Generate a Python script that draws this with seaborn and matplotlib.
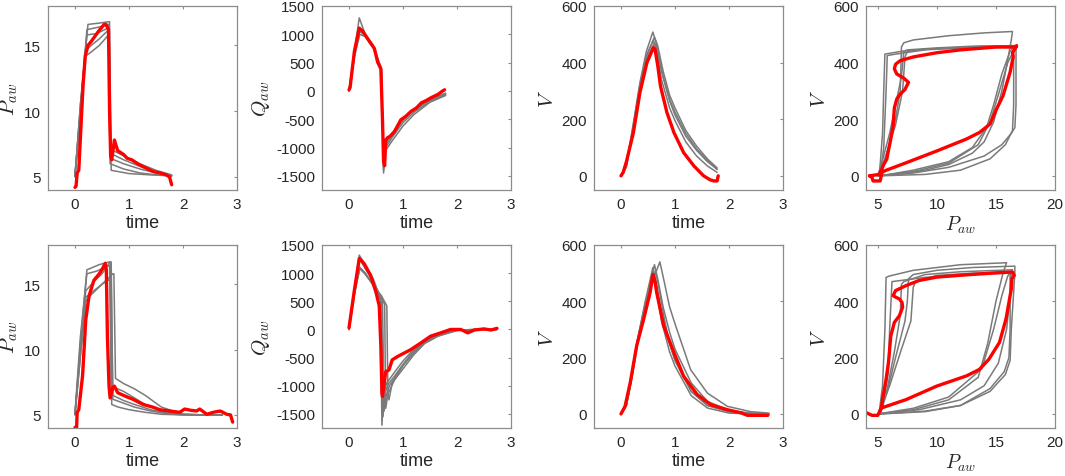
import matplotlib
matplotlib.use("Agg")
import matplotlib.pyplot as plt
import seaborn as sns

# ---- data read off the reference (gray = simulations, red = measurement) ----
# top row, pressure vs time
p_top_gray_t = [
    [0, 0.1, 0.24, 0.45, 0.62, 0.64, 0.67, 1.0, 1.4, 1.79],
    [0, 0.1, 0.22, 0.45, 0.6, 0.63, 0.66, 0.9, 1.2, 1.5, 1.79],
    [0, 0.1, 0.2, 0.3, 0.45, 0.6, 0.62, 0.65, 0.9, 1.2, 1.5, 1.79],
    [0, 0.1, 0.2, 0.3, 0.45, 0.6, 0.62, 0.65, 0.9, 1.2, 1.5, 1.79],
    [0, 0.1, 0.22, 0.4, 0.6, 0.63, 0.66, 0.9, 1.2, 1.5, 1.79],
]
p_top_gray_y = [
    [5.0, 10.5, 16.6, 16.7, 16.8, 16.8, 5.5, 5.25, 5.15, 5.1],
    [5.1, 10.0, 16.2, 16.4, 16.6, 16.6, 7.1, 6.6, 6.0, 5.5, 5.15],
    [5.2, 10.0, 14.6, 15.0, 15.5, 16.1, 16.1, 6.8, 6.3, 5.8, 5.4, 5.1],
    [5.1, 9.5, 14.2, 14.5, 15.0, 15.7, 15.7, 6.0, 5.6, 5.3, 5.15, 5.05],
    [5.0, 10.5, 15.8, 15.9, 16.3, 16.3, 6.4, 6.0, 5.6, 5.3, 5.1],
]
p_top_red_t = [0, 0.02, 0.04, 0.07, 0.1, 0.15, 0.19, 0.24, 0.3, 0.44, 0.54, 0.57, 0.6, 0.62,
               0.64, 0.66, 0.68, 0.73, 0.76, 0.79, 0.9, 0.97, 1.05, 1.16, 1.25, 1.35, 1.45,
               1.57, 1.69, 1.75, 1.79]
p_top_red_y = [4.2, 4.3, 5.3, 5.5, 8.0, 12.0, 14.2, 15.0, 15.3, 16.1, 16.6, 16.6, 16.4, 16.2,
               10.0, 6.6, 6.3, 7.8, 7.4, 7.0, 6.7, 6.4, 6.3, 6.0, 5.8, 5.6, 5.4,
               5.3, 5.15, 5.0, 4.4]

# top row, flow vs time
q_top_gray_t = [
    [0, 0.1, 0.19, 0.3, 0.45, 0.6, 0.64, 0.68, 0.8, 1.0, 1.2, 1.5, 1.79],
    [0, 0.1, 0.2, 0.3, 0.45, 0.6, 0.64, 0.68, 0.8, 1.0, 1.2, 1.5, 1.79],
    [0, 0.1, 0.2, 0.3, 0.45, 0.6, 0.64, 0.68, 0.8, 1.0, 1.2, 1.5, 1.79],
    [0, 0.1, 0.2, 0.3, 0.45, 0.6, 0.64, 0.68, 0.8, 1.0, 1.2, 1.5, 1.79],
]
q_top_gray_y = [
    [0, 700, 1290, 1000, 800, 400, -1450, -1000, -820, -560, -380, -180, -70],
    [0, 650, 1100, 1000, 780, 380, -1350, -950, -780, -520, -340, -160, -50],
    [0, 600, 1000, 960, 760, 360, -1250, -1050, -880, -620, -420, -200, -80],
    [0, 620, 1050, 980, 770, 370, -1400, -900, -750, -500, -330, -150, -40],
]
q_top_red_t = [0, 0.02, 0.1, 0.19, 0.25, 0.34, 0.47, 0.53, 0.59, 0.62, 0.64, 0.66, 0.68, 0.72,
               0.75, 0.84, 0.96, 1.05, 1.15, 1.25, 1.34, 1.43, 1.52, 1.65, 1.72, 1.77]
q_top_red_y = [20, 60, 700, 1110, 1060, 930, 750, 510, 390, -500, -1250, -1320, -870, -820,
               -810, -720, -510, -450, -360, -300, -210, -170, -120, -60, -10, 20]

# top row, volume vs time
v_top_gray_t = [
    [0, 0.1, 0.23, 0.35, 0.47, 0.59, 0.65, 0.75, 0.9, 1.0, 1.2, 1.4, 1.6, 1.78],
    [0, 0.1, 0.23, 0.35, 0.47, 0.62, 0.68, 0.78, 0.9, 1.0, 1.2, 1.4, 1.6, 1.78],
    [0, 0.1, 0.23, 0.35, 0.47, 0.62, 0.68, 0.78, 0.9, 1.0, 1.2, 1.4, 1.6, 1.78],
    [0, 0.1, 0.23, 0.35, 0.47, 0.6, 0.66, 0.75, 0.9, 1.0, 1.2, 1.4, 1.6, 1.78],
]
v_top_gray_y = [
    [0, 40, 188, 329, 440, 508, 470, 370, 265, 215, 140, 90, 50, 24],
    [0, 35, 180, 320, 425, 490, 460, 370, 285, 240, 160, 105, 60, 28],
    [0, 30, 170, 305, 410, 470, 440, 350, 270, 225, 150, 95, 55, 22],
    [0, 35, 175, 310, 420, 480, 440, 340, 240, 195, 120, 70, 35, 12],
]
v_top_red_t = [0, 0.04, 0.1, 0.23, 0.35, 0.48, 0.6, 0.63, 0.68, 0.73, 0.85, 0.98, 1.16, 1.35,
               1.53, 1.65, 1.72, 1.78, 1.8]
v_top_red_y = [0, 12, 50, 153, 294, 400, 453, 447, 390, 318, 224, 153, 82, 35,
               0, -14, -18, -18, 0]

# top row, volume vs pressure loops
loop_top_gray_p = [
    [5.1, 7, 9, 11, 13, 14, 14.8, 15.5, 16.0, 16.3, 16.4, 14, 11, 8, 7.2, 7.0, 6.9, 6.5, 5.9, 5.3, 5.1],
    [5.1, 8, 11, 14, 15.5, 16.3, 16.6, 16.7, 16.7, 14, 10, 7, 5.6, 5.5, 5.4, 5.2, 5.1],
    [5.2, 8, 11, 13, 14.2, 14.8, 15.5, 16.2, 16.5, 12, 9, 6.5, 5.8, 5.7, 5.5, 5.2],
    [5.0, 8, 11, 13.5, 14.5, 15.3, 16, 16.6, 16.6, 13, 10, 7.5, 7.2, 7.0, 6.5, 6.0, 5.3, 5.0],
    [5.1, 9, 12, 14.5, 15.8, 16.4, 16.5, 16.5, 13, 9, 7.5, 7.3, 7.1, 6.5, 5.6, 5.1],
]
loop_top_gray_v = [
    [0, 8, 20, 40, 80, 120, 190, 300, 410, 480, 510, 505, 495, 480, 470, 455, 300, 200, 100, 20, 0],
    [0, 10, 30, 70, 110, 150, 170, 250, 460, 458, 450, 440, 430, 300, 150, 40, 0],
    [0, 20, 50, 100, 170, 250, 360, 440, 455, 452, 445, 430, 425, 300, 100, 0],
    [0, 15, 45, 110, 190, 300, 400, 450, 460, 458, 452, 445, 440, 350, 250, 150, 40, 0],
    [0, 5, 20, 60, 110, 160, 250, 455, 453, 447, 440, 420, 300, 180, 60, 0],
]
loop_top_red_p = [4.3, 4.5, 4.6, 5.2, 5.35, 5.6, 7.45, 10, 12.5, 13.6, 14.5, 15.05, 15.6, 16.2,
                  16.46, 16.4, 16.6, 16.75, 16.7, 15, 12, 10, 8, 6.9, 6.5, 6.4, 6.6, 7.2, 7.6,
                  7.45, 7.3, 6.9, 6.6, 6.4, 6.3, 6.04, 5.9, 5.76, 5.5, 5.34, 5.1, 4.3]
loop_top_red_v = [0, -5, -18, -18, 12, 18, 47, 88, 130, 153, 183, 236, 283, 366,
                  420, 435, 448, 460, 455, 455, 445, 435, 420, 407, 394, 378, 360, 345, 330,
                  318, 305, 289, 271, 240, 177, 118, 90, 59, 40, 24, 5, 0]

# bottom row, pressure vs time
p_bot_gray_t = [
    [0, 0.1, 0.22, 0.45, 0.63, 0.65, 0.68, 0.8, 1.0, 1.3, 1.6, 2.0, 2.4, 2.73],
    [0, 0.1, 0.2, 0.3, 0.45, 0.7, 0.72, 0.75, 0.9, 1.1, 1.3, 1.6, 2.0, 2.4, 2.73],
    [0, 0.1, 0.2, 0.35, 0.5, 0.65, 0.67, 0.7, 0.9, 1.1, 1.4, 1.7, 2.0, 2.4, 2.73],
    [0, 0.1, 0.2, 0.35, 0.5, 0.65, 0.67, 0.7, 0.9, 1.1, 1.4, 1.7, 2.0, 2.4, 2.73],
    [0, 0.1, 0.22, 0.4, 0.62, 0.64, 0.67, 0.9, 1.1, 1.3, 1.6, 2.0, 2.4, 2.73],
]
p_bot_gray_y = [
    [5.0, 10.5, 16.1, 16.5, 16.7, 16.7, 5.8, 5.6, 5.4, 5.2, 5.05, 5.0, 5.0, 5.0],
    [5.1, 9.5, 13.7, 14.2, 14.8, 15.8, 15.8, 7.8, 7.4, 7.0, 6.5, 5.6, 5.05, 5.0, 5.0],
    [5.1, 10.0, 14.5, 15.2, 15.8, 16.7, 16.7, 6.5, 6.1, 5.8, 5.4, 5.15, 5.05, 5.0, 5.0],
    [5.0, 9.5, 14.0, 14.5, 15.0, 15.4, 15.4, 6.2, 5.9, 5.6, 5.3, 5.1, 5.0, 5.0, 5.0],
    [5.2, 11.0, 15.8, 16.0, 16.4, 16.4, 7.2, 6.8, 6.3, 5.8, 5.3, 5.05, 5.0, 5.0],
]
p_bot_red_t = [0, 0.03, 0.04, 0.07, 0.14, 0.2, 0.26, 0.35, 0.45, 0.51, 0.56, 0.58, 0.6, 0.63,
               0.65, 0.7, 0.73, 0.79, 0.95, 1.07, 1.26, 1.44, 1.57, 1.75, 1.94, 2.03, 2.15,
               2.25, 2.31, 2.44, 2.56, 2.69, 2.81, 2.88, 2.92]
p_bot_red_y = [4.05, 4.05, 5.2, 5.4, 8.0, 12.3, 14.1, 15.3, 15.8, 16.2, 16.6, 16.1, 11.0, 7.2,
               6.3, 7.1, 7.2, 6.7, 6.4, 6.2, 5.8, 5.6, 5.4, 5.3, 5.2, 5.45, 5.35,
               5.3, 5.45, 5.05, 5.2, 5.3, 5.05, 5.0, 4.45]

# bottom row, flow vs time
q_bot_gray_t = [
    [0, 0.1, 0.19, 0.3, 0.45, 0.58, 0.61, 0.64, 0.7, 0.85, 1.0, 1.2, 1.4, 1.65, 2.0, 2.4, 2.74],
    [0, 0.1, 0.2, 0.3, 0.45, 0.62, 0.65, 0.68, 0.75, 0.9, 1.05, 1.2, 1.4, 1.65, 2.0, 2.4, 2.74],
    [0, 0.1, 0.2, 0.3, 0.45, 0.6, 0.7, 0.72, 0.74, 0.8, 1.0, 1.2, 1.4, 1.65, 2.0, 2.4, 2.74],
    [0, 0.1, 0.2, 0.3, 0.45, 0.6, 0.66, 0.68, 0.72, 0.85, 1.0, 1.2, 1.4, 1.65, 2.0, 2.4, 2.74],
    [0, 0.1, 0.2, 0.3, 0.45, 0.6, 0.63, 0.66, 0.72, 0.85, 1.0, 1.2, 1.4, 1.65, 2.0, 2.4, 2.74],
]
q_bot_gray_y = [
    [0, 700, 1320, 1150, 900, 550, -1700, -1100, -950, -750, -560, -350, -200, -90, -10, 0, 0],
    [0, 650, 1100, 1000, 800, 520, -1450, -1200, -1000, -780, -560, -380, -220, -100, -15, 0, 0],
    [0, 650, 1100, 1000, 780, 600, 420, -1100, -1250, -950, -700, -450, -250, -120, -20, 0, 0],
    [0, 680, 1250, 1080, 850, 560, 450, -1400, -1150, -880, -640, -420, -240, -110, -10, 0, 0],
    [0, 620, 1080, 980, 790, 500, -1550, -1150, -980, -820, -620, -400, -230, -100, -10, 0, 0],
]
q_bot_red_t = [0, 0.1, 0.19, 0.28, 0.4, 0.5, 0.53, 0.56, 0.59, 0.61, 0.62, 0.65, 0.68, 0.74,
               0.8, 0.9, 1.02, 1.14, 1.33, 1.51, 1.7, 1.88, 2.07, 2.2, 2.32, 2.5, 2.63, 2.74]
q_bot_red_y = [30, 700, 1260, 1170, 960, 660, 540, 420, -300, -1140, -1190, -960, -750, -720,
               -540, -480, -420, -360, -240, -120, -60, 0, 0, -60, -10, 10, -10, 20]

# bottom row, volume vs time
v_bot_gray_t = [
    [0, 0.1, 0.2, 0.3, 0.45, 0.59, 0.65, 0.75, 0.9, 1.0, 1.3, 1.6, 2.0, 2.4, 2.74],
    [0, 0.1, 0.2, 0.3, 0.45, 0.62, 0.68, 0.78, 0.9, 1.0, 1.3, 1.6, 2.0, 2.4, 2.74],
    [0, 0.1, 0.2, 0.3, 0.45, 0.6, 0.72, 0.8, 0.9, 1.0, 1.29, 1.6, 1.97, 2.4, 2.74],
    [0, 0.1, 0.2, 0.3, 0.45, 0.64, 0.7, 0.8, 0.9, 1.0, 1.3, 1.6, 2.0, 2.4, 2.74],
    [0, 0.1, 0.2, 0.3, 0.45, 0.6, 0.66, 0.75, 0.9, 1.0, 1.3, 1.6, 2.0, 2.4, 2.74],
]
v_bot_gray_y = [
    [0, 35, 140, 260, 400, 520, 470, 360, 250, 190, 80, 30, 8, 2, 0],
    [0, 30, 130, 250, 390, 530, 480, 380, 290, 230, 110, 45, 12, 3, 0],
    [0, 30, 125, 240, 380, 480, 540, 470, 380, 320, 157, 74, 27, 8, 3],
    [0, 30, 130, 245, 385, 505, 450, 340, 250, 190, 80, 30, 8, 2, 0],
    [0, 35, 135, 255, 395, 510, 440, 330, 220, 170, 65, 21, 3, 0, 0],
]
v_bot_red_t = [0, 0.075, 0.17, 0.29, 0.42, 0.54, 0.59, 0.63, 0.66, 0.79, 0.98, 1.16, 1.41,
               1.66, 1.97, 2.22, 2.34, 2.5, 2.72]
v_bot_red_y = [0, 27, 110, 242, 337, 432, 495, 470, 432, 313, 218, 134, 69,
               33, 15, 4, -5, -5, -5]

# bottom row, volume vs pressure loops
loop_bot_gray_p = [
    [5.1, 8, 11, 13.5, 14.3, 15, 15.6, 15.9, 12, 8, 6, 5.7, 5.6, 5.4, 5.1],
    [5.2, 9, 12, 14.5, 15.8, 16.2, 16.3, 16.6, 16.6, 13, 10, 8, 7.6, 7.5, 7.3, 6.5, 5.8, 5.2],
    [5.0, 8, 11, 13.8, 14.8, 15.5, 16.0, 16.4, 12, 9, 7.2, 7.0, 6.9, 6.4, 5.8, 5.0],
    [5.1, 8.5, 12, 14, 15.2, 15.9, 16.2, 16.3, 13, 10, 8.2, 8.0, 7.8, 7.0, 6.0, 5.1],
    [5.2, 9, 12, 14.5, 15.7, 16.1, 16.2, 16.2, 12, 9, 6.2, 6.0, 5.9, 5.5, 5.2],
]
loop_bot_gray_v = [
    [0, 15, 50, 130, 250, 400, 500, 537, 530, 510, 490, 485, 300, 100, 0],
    [0, 10, 30, 80, 140, 190, 300, 500, 525, 520, 510, 495, 480, 400, 330, 200, 80, 0],
    [0, 20, 60, 160, 300, 420, 490, 512, 505, 495, 470, 460, 350, 220, 90, 0],
    [0, 15, 50, 100, 180, 300, 420, 505, 500, 492, 470, 450, 330, 230, 100, 0],
    [0, 8, 30, 90, 150, 200, 300, 500, 495, 485, 470, 300, 150, 50, 0],
]
loop_bot_red_p = [4.0, 4.5, 5.0, 5.3, 7.4, 10, 12.5, 13.6, 14.4, 15.3, 15.85, 16.1, 16.3, 16.35,
                  16.55, 16.4, 15, 12.5, 10, 8.5, 7.4, 6.8, 6.5, 6.3, 6.55, 6.83, 7.05, 7.1,
                  6.83, 6.4, 6.1, 5.9, 5.7, 5.4, 5.3]
loop_bot_red_v = [5, -5, -5, 21, 51, 99, 135, 158, 194, 254, 337, 396, 444, 480,
                  492, 504, 501, 494, 486, 474, 456, 444, 438, 420, 414, 408, 396, 379,
                  349, 325, 277, 182, 123, 51, 21]

GRAY = "#7a7a7a"
RED = "#ff0000"
EDGE = "#8c8c8c"
TEXT = "#262626"

sns.set_style("white")
plt.rcParams["font.family"] = ["Liberation Sans", "DejaVu Sans"]
plt.rcParams["mathtext.fontset"] = "cm"


def draw_panel(ax, gray_x, gray_y, red_x, red_y):
    for gx, gy in zip(gray_x, gray_y):
        sns.lineplot(x=gx, y=gy, ax=ax, sort=False, estimator=None,
                     color=GRAY, linewidth=1.1)
    sns.lineplot(x=red_x, y=red_y, ax=ax, sort=False, estimator=None,
                 color=RED, linewidth=2.4)


def style_axes(ax, xlim, ylim, xticks, yticks, xlabel, ylabel):
    ax.set_xlim(*xlim)
    ax.set_ylim(*ylim)
    ax.set_xticks(xticks)
    ax.set_yticks(yticks)
    ax.set_xticklabels([str(v) for v in xticks])
    ax.set_yticklabels([str(v) for v in yticks])
    ax.tick_params(direction="in", length=2.5, width=0.8, colors=EDGE,
                   labelcolor=TEXT, labelsize=11, top=True, right=True, pad=5)
    for sp in ax.spines.values():
        sp.set_visible(True)
        sp.set_color(EDGE)
        sp.set_linewidth(0.9)
    if xlabel == "time":
        ax.set_xlabel(xlabel, fontsize=13, color=TEXT, labelpad=2)
    else:
        ax.set_xlabel(xlabel, fontsize=14, color=TEXT, labelpad=2)
    ax.set_ylabel(ylabel, fontsize=15, color=TEXT, labelpad=3)


fig = plt.figure(figsize=(10.65, 4.77), dpi=100)
W, H = 1065.0, 477.0
lefts = [48, 322, 594, 866]
rows = [(7, 191), (246, 429)]
width = 189

panels = [
    [(p_top_gray_t, p_top_gray_y, p_top_red_t, p_top_red_y),
     (q_top_gray_t, q_top_gray_y, q_top_red_t, q_top_red_y),
     (v_top_gray_t, v_top_gray_y, v_top_red_t, v_top_red_y),
     (loop_top_gray_p, loop_top_gray_v, loop_top_red_p, loop_top_red_v)],
    [(p_bot_gray_t, p_bot_gray_y, p_bot_red_t, p_bot_red_y),
     (q_bot_gray_t, q_bot_gray_y, q_bot_red_t, q_bot_red_y),
     (v_bot_gray_t, v_bot_gray_y, v_bot_red_t, v_bot_red_y),
     (loop_bot_gray_p, loop_bot_gray_v, loop_bot_red_p, loop_bot_red_v)],
]

specs = [
    ((-0.5, 3), (4, 18), [0, 1, 2, 3], [5, 10, 15], "time", r"$P_{aw}$"),
    ((-0.5, 3), (-1750, 1500), [0, 1, 2, 3], [-1500, -1000, -500, 0, 500, 1000, 1500], "time", r"$Q_{aw}$"),
    ((-0.5, 3), (-50, 600), [0, 1, 2, 3], [0, 200, 400, 600], "time", r"$V$"),
    ((4, 20), (-50, 600), [5, 10, 15, 20], [0, 200, 400, 600], r"$P_{aw}$", r"$V$"),
]

for r, (top, bottom) in enumerate(rows):
    for c, left in enumerate(lefts):
        ax = fig.add_axes([left / W, 1 - bottom / H, width / W, (bottom - top) / H])
        draw_panel(ax, *panels[r][c])
        style_axes(ax, *specs[c])

fig.savefig("out.png", dpi=100, facecolor="white")
